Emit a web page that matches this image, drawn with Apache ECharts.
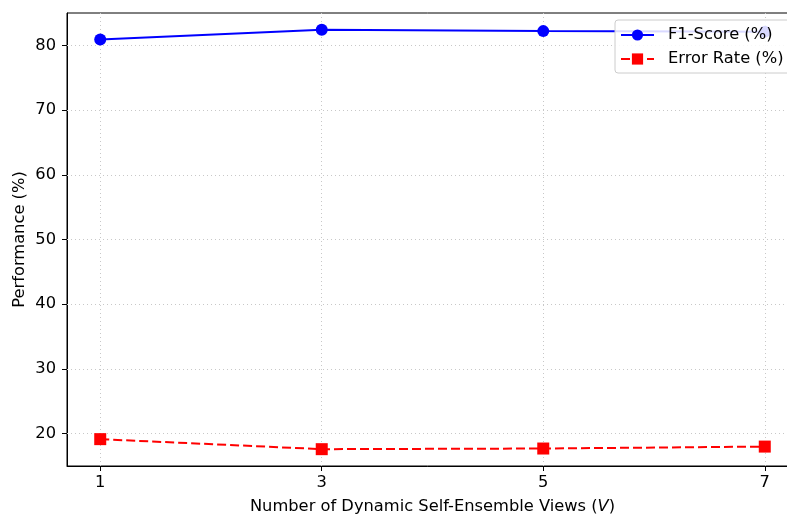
<!DOCTYPE html>
<html><head><meta charset="utf-8">
<script src="https://cdn.jsdelivr.net/npm/echarts@6/dist/echarts.min.js"></script>
<style>html,body{margin:0;padding:0;background:#fff;overflow:hidden}#c{width:787px;height:515px}</style>
</head><body><div id="c"></div>
<script>
const views = [1, 3, 5, 7];
const f1Score = [80.9, 82.4, 82.2, 82.1];
const errorRate = [19.15, 17.6, 17.7, 18.0];
const xTicks = [1, 3, 5, 7];
const yTicks = [20, 30, 40, 50, 60, 70, 80];

const font = 'DejaVu Sans';
const chart = echarts.init(document.getElementById('c'));
const gridStyle = {type: [1, 3], color: '#c8c8c8', width: 1};
const markLines = xTicks.map(v => ({xAxis: v})).concat(yTicks.map(v => ({yAxis: v})));

chart.setOption({
  animation: false,
  backgroundColor: '#fff',
  grid: {left: 67, top: 13, width: 731, height: 453, containLabel: false, outerBoundsMode: 'none',
         show: true, borderColor: '#000', borderWidth: 1, backgroundColor: 'transparent'},
  xAxis: {
    type: 'value', min: 0.7, max: 7.3,
    name: '{n|Number of Dynamic Self-Ensemble Views (}{i|V}{n|)}',
    nameLocation: 'middle', nameGap: 33,
    nameTextStyle: {rich: {n: {fontFamily: font, fontSize: 16.3, color: '#000'}, i: {fontFamily: font, fontSize: 16.3, fontStyle: 'italic', color: '#000'}}},
    axisLine: {lineStyle: {color: '#000', width: 1}},
    axisTick: {show: true, length: 5, customValues: xTicks, lineStyle: {color: '#000'}},
    axisLabel: {customValues: xTicks, fontFamily: font, fontSize: 16.3, color: '#000', margin: 9},
    splitLine: {show: false}
  },
  yAxis: {
    type: 'value', min: 15, max: 85,
    name: 'Performance (%)', nameLocation: 'middle', nameGap: 39, nameMoveOverlap: false,
    nameTextStyle: {fontFamily: font, fontSize: 16.3, color: '#000'},
    axisLine: {show: true, lineStyle: {color: '#000', width: 1}},
    axisTick: {show: true, length: 5, customValues: yTicks, lineStyle: {color: '#000'}},
    axisLabel: {customValues: yTicks, fontFamily: font, fontSize: 16.3, color: '#000', margin: 11},
    splitLine: {show: false}
  },
  legend: {
    orient: 'vertical', left: 615, top: 20,
    itemWidth: 33, itemHeight: 14, itemGap: 8,
    padding: [7, 30, 6, 5],
    backgroundColor: 'rgba(255,255,255,0.85)',
    borderColor: '#cccccc', borderWidth: 1, borderRadius: 3,
    textStyle: {fontFamily: font, fontSize: 16.3, color: '#000', padding: [0, 0, 0, 9]},
    data: ['F1-Score (%)', 'Error Rate (%)']
  },
  series: [
    {
      name: 'F1-Score (%)', type: 'line',
      data: views.map((v, i) => [v, f1Score[i]]),
      symbol: 'circle', symbolSize: 12,
      itemStyle: {color: '#0000ff'},
      lineStyle: {color: '#0000ff', width: 2},
      z: 3,
      markLine: {silent: true, symbol: 'none', label: {show: false}, lineStyle: gridStyle, data: markLines, z: 1}
    },
    {
      name: 'Error Rate (%)', type: 'line',
      data: views.map((v, i) => [v, errorRate[i]]),
      symbol: 'rect', symbolSize: 12,
      itemStyle: {color: '#ff0000'},
      lineStyle: {color: '#ff0000', width: 2, type: [9, 4]},
      z: 3
    }
  ]
});
</script></body></html>
